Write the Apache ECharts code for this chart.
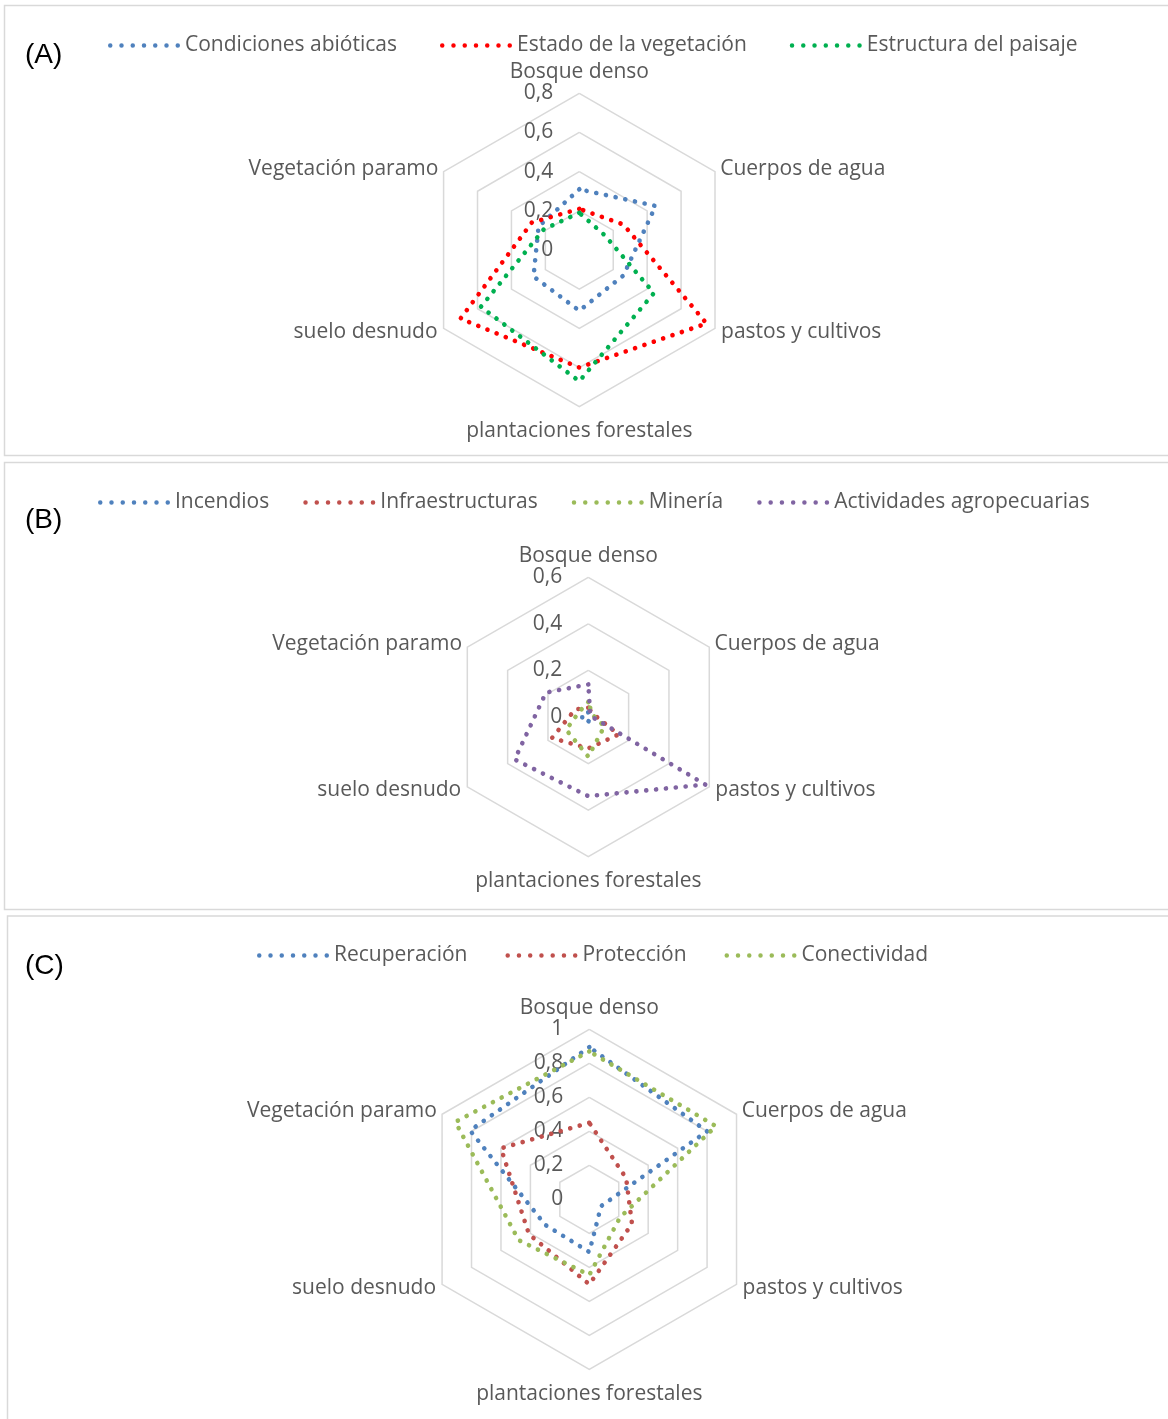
<!DOCTYPE html>
<html>
<head>
<meta charset="utf-8">
<script src="https://cdn.jsdelivr.net/npm/echarts@6/dist/echarts.min.js"></script>
<style>
html,body{margin:0;padding:0;background:#fff;}
#chart{width:1168px;height:1419px;}
</style>
</head>
<body>
<div id="chart"></div>
<script>
// Categories in clockwise order starting from the top
const categories = ['Bosque denso', 'Cuerpos de agua', 'pastos y cultivos', 'plantaciones forestales', 'suelo desnudo', 'Vegetación paramo'];

// Panel A
const seriesNamesA = ['Condiciones abióticas', 'Estado de la vegetación', 'Estructura del paisaje'];
const condicionesAbioticas = [0.31, 0.45, 0.26, 0.31, 0.27, 0.24];
const estadoVegetacion   = [0.21, 0.26, 0.75, 0.60, 0.70, 0.28];
const estructuraPaisaje  = [0.19, 0.15, 0.44, 0.67, 0.58, 0.21];
const maxA = 0.8, splitA = 4;

// Panel B
const seriesNamesB = ['Incendios', 'Infraestructuras', 'Minería', 'Actividades agropecuarias'];
const incendios        = [0.02, 0.01, 0.01, 0.02, 0.03, 0.03];
const infraestructuras = [0.04, 0.025, 0.15, 0.135, 0.18, 0.065];
const mineria          = [0.065, 0.02, 0.08, 0.17, 0.11, 0.045];
const agropecuarias    = [0.14, 0.01, 0.58, 0.34, 0.365, 0.21];
const maxB = 0.6, splitB = 3;

// Panel C
const seriesNamesC = ['Recuperación', 'Protección', 'Conectividad'];
const recuperacion = [0.895, 0.80, 0.08, 0.31, 0.30, 0.81];
const proteccion   = [0.45, 0.25, 0.29, 0.50, 0.41, 0.60];
const conectividad = [0.87, 0.86, 0.21, 0.445, 0.48, 0.91];
const maxC = 1, splitC = 5;

const colorsA = ['#4F81BD', '#FF0000', '#00B050'];
const colorsB = ['#4F81BD', '#C0504D', '#9BBB59', '#8064A2'];
const colorsC = ['#4F81BD', '#C0504D', '#9BBB59'];

const FONT = '"Open Sans", "DejaVu Sans", sans-serif';
const TXT = '#595959';
const FS = 21;

// ECharts lays indicators out counter-clockwise; reorder clockwise categories
const order = [0, 5, 4, 3, 2, 1];
const reorder = arr => order.map(i => arr[i]);
// name gap per clockwise position: top, upper-right, lower-right, bottom, lower-left, upper-left
const nameGaps = [11, 6, 7, 14, 7, 6];

function fmt(v) {
  return String(Math.round(Number(v) * 100) / 100).replace('.', ',');
}

function makeRadar(center, radius, max, split) {
  return {
    center: center,
    radius: radius,
    startAngle: 90,
    splitNumber: split,
    shape: 'polygon',
    nameGap: 8,
    indicator: order.map((i, k) => {
      const ind = { name: categories[i], min: 0, max: max, nameGap: nameGaps[i] };
      if (k === 0) ind.axisLabel = { show: true };
      return ind;
    }),
    axisName: { color: TXT, fontSize: FS, fontFamily: FONT },
    splitLine: { lineStyle: { color: '#D9D9D9', width: 1.5 } },
    splitArea: { show: false },
    axisLine: { show: false },
    axisTick: { show: false },
    axisLabel: { show: false, color: TXT, fontSize: FS, fontFamily: FONT, margin: 26, padding: [8, 0, 0, 0], formatter: fmt }
  };
}

function makeSeries(radarIndex, names, arrays, colors) {
  return names.map((n, i) => ({
    type: 'radar',
    name: n,
    radarIndex: radarIndex,
    symbol: 'none',
    silent: true,
    z: 2 + i,
    itemStyle: { color: colors[i] },
    lineStyle: { color: colors[i], width: 4.6, type: [0.1, 9.8], cap: 'round' },
    data: [{ name: n, value: reorder(arrays[i]) }]
  }));
}

// dotted legend icon: 7 dots
let dotPath = 'path://';
for (let k = 0; k < 7; k++) {
  const cx = 2.25 + k * 11.25;
  dotPath += 'M' + (cx - 2.25) + ',2.25a2.25,2.25 0 1,0 4.5,0a2.25,2.25 0 1,0 -4.5,0';
}

function makeLegend(names, colors, left, top, gap) {
  return {
    left: left, top: top, padding: 0, itemGap: gap,
    itemWidth: 72, itemHeight: 4.5,
    selectedMode: false,
    textStyle: { color: TXT, fontSize: FS, fontFamily: FONT },
    data: names.map((n, i) => ({ name: n, icon: dotPath, itemStyle: { color: colors[i], borderWidth: 0 } }))
  };
}

const border = { stroke: '#D9D9D9', lineWidth: 1.5, fill: 'none' };
const panelLabel = (t, y) => ({
  type: 'text', x: 25, y: y,
  style: { text: t, font: '28px "Liberation Sans", Arial, sans-serif', fill: '#000', verticalAlign: 'middle' }
});

const option = {
  animation: false,
  backgroundColor: '#fff',
  graphic: [
    { type: 'rect', shape: { x: 4.5, y: 5.5, width: 1180, height: 450 }, style: border },
    { type: 'rect', shape: { x: 4.5, y: 462.5, width: 1180, height: 447 }, style: border },
    { type: 'rect', shape: { x: 7.5, y: 916, width: 1180, height: 520 }, style: border },
    panelLabel('(A)', 55),
    panelLabel('(B)', 520),
    panelLabel('(C)', 966)
  ],
  legend: [
    makeLegend(seriesNamesA, colorsA, 108, 35, 43),
    makeLegend(seriesNamesB, colorsB, 98, 492, 34),
    makeLegend(seriesNamesC, colorsC, 257, 945, 38)
  ],
  radar: [
    makeRadar([579.3, 250], 156.7, maxA, splitA),
    makeRadar([588.3, 717], 139.7, maxB, splitB),
    makeRadar([589.3, 1199.3], 170, maxC, splitC)
  ],
  series: [].concat(
    makeSeries(0, seriesNamesA, [condicionesAbioticas, estadoVegetacion, estructuraPaisaje], colorsA),
    makeSeries(1, seriesNamesB, [incendios, infraestructuras, mineria, agropecuarias], colorsB),
    makeSeries(2, seriesNamesC, [recuperacion, proteccion, conectividad], colorsC)
  )
};

const chart = echarts.init(document.getElementById('chart'), null, { renderer: 'canvas' });
chart.setOption(option);
</script>
</body>
</html>
